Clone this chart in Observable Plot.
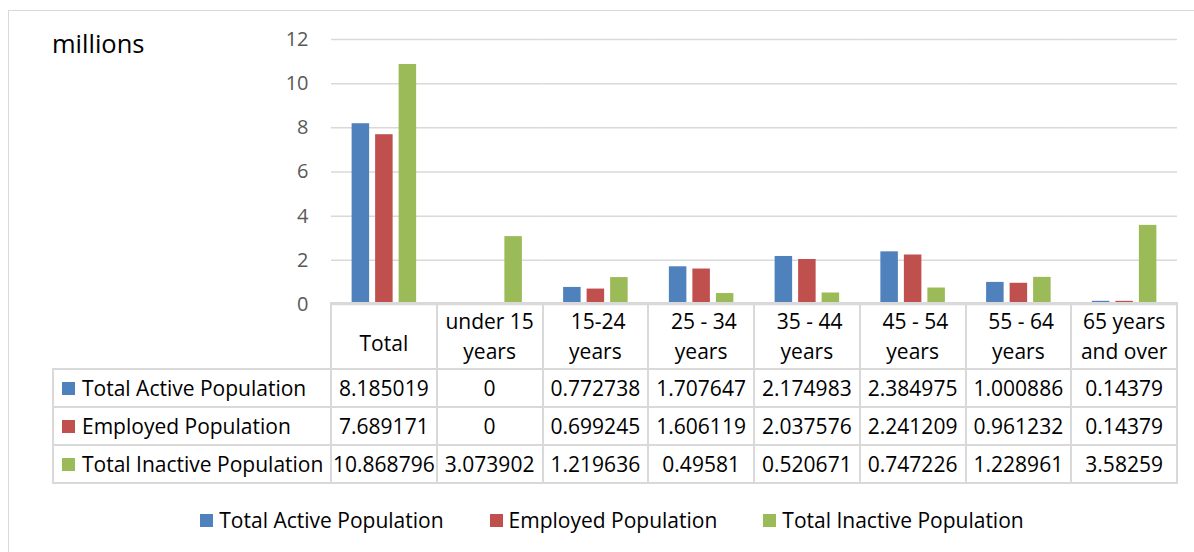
<!DOCTYPE html>
<html>
<head>
<meta charset="utf-8">
<script src="https://cdn.jsdelivr.net/npm/d3@7"></script>
<script src="https://cdn.jsdelivr.net/npm/@observablehq/plot@0.6"></script>
<style>
  html, body { margin: 0; padding: 0; background: #fff; overflow: hidden; }
  body { width: 1194px; height: 552px; position: relative; font-family: "Open Sans", sans-serif; color: #000; }
  #frame { position: absolute; left: 8px; top: 10px; width: 1200px; height: 560px; border: 1px solid #d9d9d9; box-sizing: border-box; }
  #chart { position: absolute; left: 0; top: 0; }
  #unit { position: absolute; left: 52px; top: 31px; font-size: 25.5px; line-height: 25.5px; }
  .cell { position: absolute; display: flex; flex-direction: column; align-items: center; justify-content: center;
          font-size: 21px; line-height: 30px; white-space: pre; text-align: center; }
  .rowlabel { position: absolute; display: flex; align-items: center; font-size: 21px; white-space: pre; }
  .rowlabel .key { width: 13px; height: 13px; margin-left: 9px; margin-right: 7px; }
  .line { position: absolute; background: #d9d9d9; }
  #legend { position: absolute; left: 8px; width: 1208px; top: 505px; height: 30px; display: flex;
            justify-content: center; align-items: center; gap: 46px; font-size: 21px; }
  #legend .item { display: flex; align-items: center; }
  #legend .key { width: 13px; height: 13px; margin-right: 6px; }
</style>
</head>
<body>
<div id="frame"></div>
<div id="chart"></div>
<div id="unit">millions</div>
<div id="table"></div>
<div id="legend"></div>
<script>
// Age groups (x categories) and their two-line header text in the data table
const categories = ["Total", "under 15 years", "15-24 years", "25 - 34 years", "35 - 44 years", "45 - 54 years", "55 - 64 years", "65 years and over"];
const headerLines = [["Total"], ["under 15", "years"], [" 15-24", "years"], [" 25 - 34", "years"], [" 35 - 44", "years"], [" 45 - 54", "years"], [" 55 - 64", "years"], ["65 years", "and over"]];

// Series (millions)
const seriesNames = ["Total Active Population", "Employed Population", "Total Inactive Population"];
const activeValues = [8.185019, 0, 0.772738, 1.707647, 2.174983, 2.384975, 1.000886, 0.14379];
const employedValues = [7.689171, 0, 0.699245, 1.606119, 2.037576, 2.241209, 0.961232, 0.14379];
const inactiveValues = [10.868796, 3.073902, 1.219636, 0.49581, 0.520671, 0.747226, 1.228961, 3.58259];
const seriesColors = ["#4f81bd", "#c0504d", "#9bbb59"];

// Y axis ticks
const yTicks = [0, 2, 4, 6, 8, 10, 12];

const seriesValues = [activeValues, employedValues, inactiveValues];
const rows = [];
categories.forEach((c, i) => {
  seriesNames.forEach((s, j) => rows.push({category: c, series: s, value: seriesValues[j][i]}));
});

const chart = Plot.plot({
  width: 1194,
  height: 304,
  marginLeft: 331,
  marginRight: 17,
  marginTop: 39,
  marginBottom: 0,
  style: {fontFamily: '"Open Sans", sans-serif', background: "transparent", overflow: "visible"},
  fx: {domain: categories, padding: 0, round: false, axis: null},
  x: {domain: seriesNames, paddingInner: 0.255, paddingOuter: 0.877, round: false, axis: null},
  y: {domain: [0, 12], axis: null},
  color: {domain: seriesNames, range: seriesColors},
  marks: [
    Plot.ruleY(yTicks, {stroke: "#d9d9d9", strokeWidth: 1.5}),
    Plot.axisY({ticks: yTicks, tickSize: 0, tickPadding: 23, fontSize: 20, color: "#595959", label: null, tickFormat: d => String(d)}),
    Plot.barY(rows, {fx: "category", x: "series", y: "value", fill: "series"})
  ]
});
document.getElementById("chart").append(chart);

// Data table below the plot, aligned on the fx bands
const fx = chart.scale("fx");
const colLeft = categories.map(c => fx.apply(c));
const colW = fx.bandwidth;
const colRight = colLeft[colLeft.length - 1] + colW;
const tableLeft = 53;
const headerTop = 303, headerH = 66, rowH = 38;
const rowTops = seriesNames.map((s, j) => headerTop + headerH + j * rowH);
const tableBottom = headerTop + headerH + seriesNames.length * rowH;

const table = document.getElementById("table");
function line(x, y, w, h) {
  const d = document.createElement("div");
  d.className = "line";
  Object.assign(d.style, {left: x + "px", top: y + "px", width: w + "px", height: h + "px"});
  table.append(d);
}
function cell(x, y, w, h, lines, extraTop) {
  const d = document.createElement("div");
  d.className = "cell";
  Object.assign(d.style, {left: x + "px", top: (y + (extraTop || 0)) + "px", width: w + "px", height: h + "px"});
  lines.forEach(t => { const s = document.createElement("div"); s.textContent = t; d.append(s); });
  table.append(d);
}

// header cells
categories.forEach((c, i) => {
  cell(colLeft[i], headerTop, colW, headerH, headerLines[i], headerLines[i].length === 1 ? 7 : 0);
});
// value rows with series keys
seriesNames.forEach((s, j) => {
  const top = rowTops[j];
  const lab = document.createElement("div");
  lab.className = "rowlabel";
  Object.assign(lab.style, {left: tableLeft + "px", top: top + "px", height: rowH + "px", width: (colLeft[0] - tableLeft) + "px"});
  const key = document.createElement("div");
  key.className = "key";
  key.style.background = seriesColors[j];
  const txt = document.createElement("span");
  txt.textContent = s;
  lab.append(key, txt);
  table.append(lab);
  categories.forEach((c, i) => cell(colLeft[i], top, colW, rowH, [String(seriesValues[j][i])]));
});
// grid lines of the table
line(colLeft[0] - 1, headerTop - 1, colRight - colLeft[0] + 2, 2);
[...rowTops, tableBottom].forEach(y => line(tableLeft - 1, y - 1, colRight - tableLeft + 2, 2));
[...colLeft, colRight].forEach(x => line(x - 1, headerTop - 1, 2, tableBottom - headerTop + 2));
line(tableLeft - 1, rowTops[0] - 1, 2, tableBottom - rowTops[0] + 2);

// legend
const legend = document.getElementById("legend");
seriesNames.forEach((s, j) => {
  const item = document.createElement("div");
  item.className = "item";
  const key = document.createElement("div");
  key.className = "key";
  key.style.background = seriesColors[j];
  const txt = document.createElement("span");
  txt.textContent = s;
  item.append(key, txt);
  legend.append(item);
});
</script>
</body>
</html>
